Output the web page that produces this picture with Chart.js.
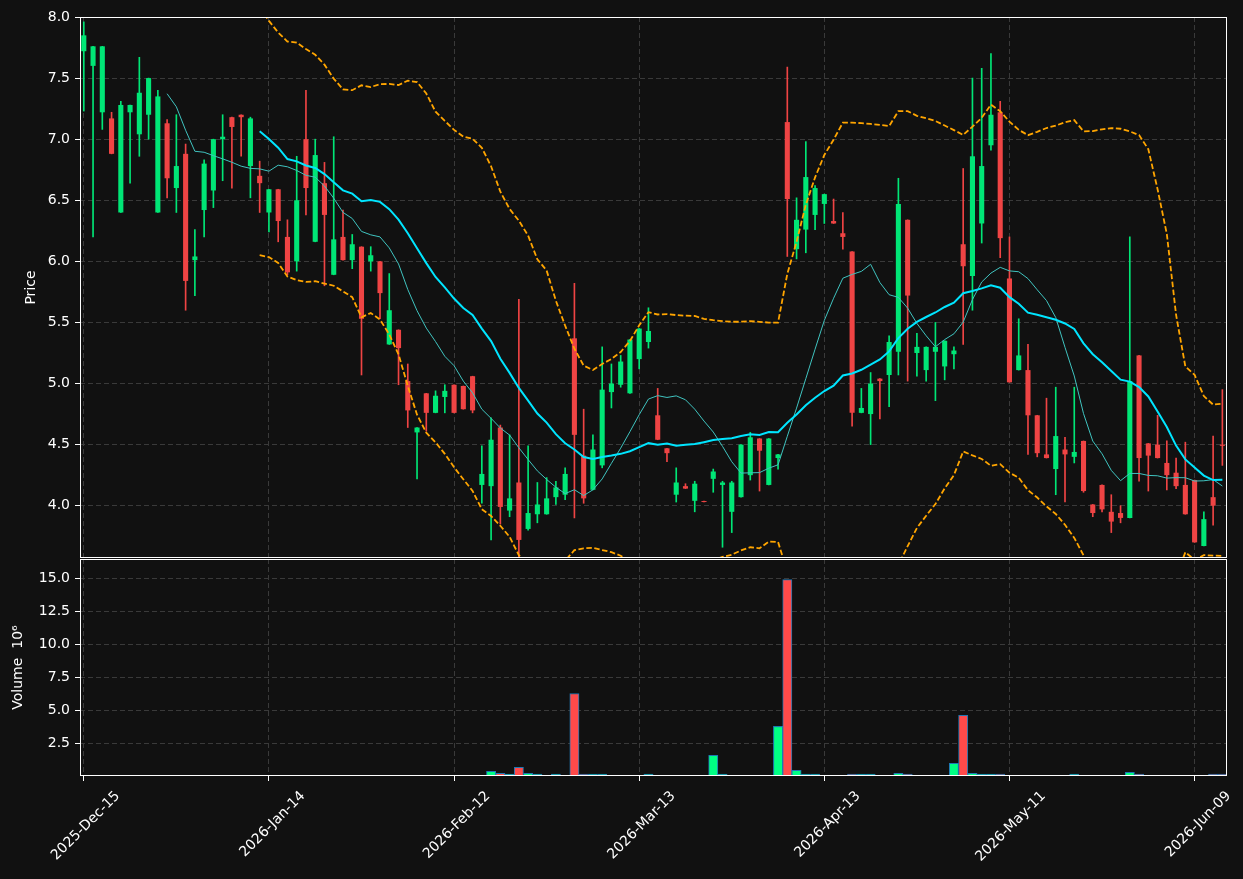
<!DOCTYPE html>
<html>
<head>
<meta charset="utf-8">
<script src="https://cdn.jsdelivr.net/npm/chart.js@4.4.1/dist/chart.umd.min.js"></script>
<style>
  html, body { margin: 0; padding: 0; background: #111111; }
  #wrap { position: relative; width: 1243px; height: 879px; background: #111111; overflow: hidden; }
  canvas { position: absolute; left: 0; }
  #price { top: 0; }
  #vol { top: 559px; }
</style>
</head>
<body>
<div id="wrap">
  <canvas id="price" width="1243" height="559"></canvas>
  <canvas id="vol" width="1243" height="320"></canvas>
</div>
<script>
/* --- DATA (one entry per trading day, index 0 = 2025-12-15) --- */
const opens  = [7.72,7.60,7.22,7.17,6.40,7.22,7.04,7.20,6.40,7.13, 6.60,6.88,6.01,6.42,6.58,7.00,7.18,7.20,6.78,6.70,
                6.40,6.59,6.20,6.00,7.00,6.16,6.64,5.89,6.20,6.01, 6.12,6.00,6.00,5.32,5.44,5.02,4.60,4.92,4.76,4.89,
                4.99,4.98,5.06,4.17,4.16,4.64,3.96,4.19,3.81,3.93, 3.93,4.07,4.09,5.37,4.41,4.13,4.33,4.93,4.99,4.92,
                5.20,5.34,4.74,4.47,4.09,4.16,4.04,4.037,4.22,4.17, 3.95,4.07,4.25,4.55,4.17,4.39,7.14,6.10,6.26,6.38,
                6.47,6.33,6.23,6.08,4.76,4.75,5.04,5.07,5.26,6.34, 5.25,5.11,5.26,5.14,5.24,6.14,5.88,6.31,6.95,7.22,
                5.86,5.11,5.11,4.74,4.42,4.30,4.46,4.40,4.53,4.01, 4.17,3.95,3.94,3.90,5.23,4.51,4.50,4.35,4.27,4.17,
                4.21,3.67,4.07,4.50];
const highs  = [7.96,7.76,7.76,7.22,7.31,7.28,7.67,7.50,7.40,7.16, 7.20,6.96,6.26,6.83,7.00,7.20,7.18,7.20,7.18,6.82,
                6.59,6.59,6.34,6.86,7.40,7.00,6.81,7.02,6.42,6.22, 6.12,6.12,6.00,5.90,5.44,5.16,4.64,4.92,4.94,4.99,
                4.99,4.98,5.06,4.49,4.72,4.66,4.58,5.69,4.49,4.19, 4.23,4.20,4.31,5.82,4.79,4.58,5.30,5.16,5.23,5.36,
                5.45,5.62,4.96,4.47,4.31,4.18,4.20,4.037,4.30,4.20, 4.20,4.50,4.60,4.55,4.55,4.42,7.59,6.52,6.98,6.62,
                6.55,6.51,6.40,6.08,4.96,5.09,5.04,5.39,6.68,6.34, 5.41,5.30,5.50,5.35,5.30,6.76,7.50,7.58,7.70,7.31,
                6.20,5.53,5.32,4.74,4.88,4.97,4.56,4.97,4.53,4.01, 4.17,4.09,4.00,6.20,5.23,4.51,4.74,4.53,4.39,4.52,
                4.21,3.95,4.57,4.95];
const lows   = [7.23,6.20,7.08,6.88,6.40,6.64,6.86,7.00,6.40,6.52, 6.40,5.60,5.72,6.20,6.44,6.66,6.60,6.86,6.52,6.40,
                6.24,6.16,5.89,5.92,6.38,6.16,5.80,5.89,6.01,5.94, 5.07,5.92,5.53,5.32,4.99,4.64,4.22,4.61,4.76,4.76,
                4.76,4.79,4.76,4.02,3.72,3.85,3.91,3.57,3.80,3.86, 3.93,4.01,4.05,3.90,4.02,4.13,4.31,4.80,4.97,4.92,
                5.12,5.29,4.54,4.36,4.03,4.14,3.95,4.03,4.11,3.66, 3.78,4.07,4.21,4.12,4.17,4.30,6.04,6.02,6.07,6.26,
                6.31,6.31,6.10,4.65,4.76,4.50,4.71,4.81,5.07,5.02, 5.06,5.02,4.86,5.03,5.12,5.32,5.60,6.15,6.91,6.03,
                5.01,5.11,4.42,4.40,4.39,4.09,4.03,4.35,4.11,3.91, 3.95,3.78,3.86,3.90,4.20,4.12,4.39,4.13,4.14,3.93,
                3.70,3.67,3.84,4.33];
const closes = [7.85,7.76,7.76,6.88,7.28,7.28,7.38,7.50,7.35,6.68, 6.78,5.84,6.04,6.80,7.00,7.02,7.10,7.18,7.17,6.64,
                6.59,6.33,5.91,6.50,6.60,6.87,6.38,6.18,6.01,6.14, 5.53,6.05,5.74,5.60,5.29,4.78,4.64,4.76,4.90,4.94,
                4.76,4.79,4.78,4.26,4.54,3.99,4.06,3.72,3.94,4.01, 4.06,4.15,4.26,4.58,4.06,4.46,4.95,5.00,5.18,5.36,
                5.45,5.43,4.54,4.43,4.19,4.14,4.18,4.03,4.28,4.19, 4.19,4.50,4.56,4.45,4.55,4.42,6.51,6.34,6.69,6.60,
                6.55,6.31,6.20,4.76,4.80,5.00,5.02,5.34,6.47,5.72, 5.30,5.30,5.30,5.35,5.27,5.96,6.86,6.78,7.20,6.19,
                5.01,5.23,4.74,4.43,4.39,4.57,4.42,4.44,4.12,3.94, 3.97,3.87,3.90,5.02,4.39,4.41,4.39,4.25,4.16,3.93,
                3.70,3.89,4.00,4.49];
// volume in millions of shares (null = no bar)
const volume = [null,null,null,null,null,null,null,null,null,null, null,null,null,null,null,null,null,null,null,null,
                null,null,null,null,null,null,null,null,null,null, null,null,null,null,null,null,null,null,null,null,
                null,null,null,null,0.35,0.20,0.13,0.66,0.20,0.04, null,0.04,null,6.26,0.13,0.03,0.03,null,null,null,
                null,0.03,null,null,null,null,null,null,1.57,0.13, null,null,null,null,null,3.76,14.9,0.43,0.03,0.03,
                null,null,null,0.03,0.03,0.13,null,null,0.20,0.03, null,null,null,null,0.96,4.60,0.20,0.03,0.03,0.03,
                null,null,null,null,null,null,null,0.03,null,null, null,null,null,0.28,0.03,null,null,null,null,null,
                null,null,0.03,0.03];

const tickIdx    = [0, 20, 40, 60, 80, 100, 120];
const tickLabels = ['2025-Dec-15','2026-Jan-14','2026-Feb-12','2026-Mar-13','2026-Apr-13','2026-May-11','2026-Jun-09'];
const priceTicks = [4.0, 4.5, 5.0, 5.5, 6.0, 6.5, 7.0, 7.5, 8.0];
const volTicks   = [2.5, 5.0, 7.5, 10.0, 12.5, 15.0];

/* --- INDICATORS derived from closes (10/20-day means, 20-day 2-sigma bands) --- */
function rollMean(src, n){
  return src.map((_, i) => {
    if (i < n - 1) return null;
    let s = 0; for (let k = i - n + 1; k <= i; k++) s += src[k];
    return s / n;
  });
}
function rollStd(src, n, mean){
  return src.map((_, i) => {
    if (mean[i] === null) return null;
    let s = 0; for (let k = i - n + 1; k <= i; k++) s += (src[k] - mean[i]) ** 2;
    return Math.sqrt(s / n);
  });
}
const ma10 = rollMean(closes, 10);
const ma20 = rollMean(closes, 20);
const sd20 = rollStd(closes, 20, ma20);
const bbUp = ma20.map((m, i) => m === null ? null : m + 2 * sd20[i]);
const bbDn = ma20.map((m, i) => m === null ? null : m - 2 * sd20[i]);

/* --- STYLE --- */
const GRID = '#3a3a3a';
const UP = '#00e676', DOWN = '#ef4444';
const VUP = '#00ff84', VDOWN = '#ff4a4a';
Chart.defaults.font.family = "'DejaVu Sans', sans-serif";
Chart.defaults.font.size = 14;
Chart.defaults.color = '#ffffff';
Chart.defaults.animation = false;

const days = closes.map((_, i) => i);
const isUp = days.map(i => closes[i] >= opens[i]);
const pts = arr => days.map(i => ({x: i, y: arr[i]}));

const frame = {
  id: 'frame',
  afterDraw(c){
    const a = c.chartArea, ctx = c.ctx;
    ctx.save();
    ctx.strokeStyle = '#ffffff'; ctx.lineWidth = 1;
    ctx.strokeRect(Math.round(a.left) + 0.5, Math.round(a.top) + 0.5,
                   Math.round(a.right - a.left) - 1, Math.round(a.bottom - a.top) - 1);
    ctx.restore();
  }
};

function xAxis(withLabels){
  return {
    type: 'linear', min: -0.41, max: 123.5, offset: false,
    afterBuildTicks: s => { s.ticks = tickIdx.map(v => ({value: v})); },
    ticks: {display: withLabels, autoSkip: false, maxRotation: 45, minRotation: 45,
            labelOffset: 34, padding: 7, callback: (v, i) => tickLabels[i]},
    grid: {offset: false, color: GRID, lineWidth: 1, drawTicks: withLabels, tickLength: 5,
           tickColor: '#ffffff', tickBorderDash: []},
    border: {display: false, dash: [5, 3]},
    afterFit: s => { s.height = withLabels ? 103 : 0; s.paddingLeft = 0; s.paddingRight = 0; }
  };
}
function yAxis(lo, hi, ticks, title, titlePad){
  return {
    type: 'linear', min: lo, max: hi,
    afterBuildTicks: s => { s.ticks = ticks.map(v => ({value: v})); },
    ticks: {padding: 5, callback: v => v.toFixed(1)},
    grid: {color: GRID, lineWidth: 1, tickLength: 5, tickColor: '#ffffff', tickBorderDash: []},
    border: {display: false, dash: [5, 3]},
    title: {display: true, text: title, color: '#ffffff', padding: {top: titlePad, bottom: 0}},
    afterFit: s => { s.width = 80; s.paddingTop = 0; s.paddingBottom = 0; }
  };
}
const lineDs = (data, color, width, dash) => ({
  type: 'line', data: pts(data), borderColor: color, borderWidth: width, borderDash: dash || [],
  pointRadius: 0, fill: false, tension: 0, spanGaps: false, order: 0
});

/* --- PRICE PANEL --- */
new Chart(document.getElementById('price'), {
  type: 'bar',
  data: {datasets: [
    lineDs(bbUp, '#ffa500', 1.8, [5.5, 2.5]),
    lineDs(bbDn, '#ffa500', 1.8, [5.5, 2.5]),
    lineDs(ma20, '#00e5ff', 2),
    lineDs(ma10, '#40c4c0', 1),
    {type: 'bar', data: days.map(i => ({x: i, y: [opens[i], closes[i]]})),
     backgroundColor: days.map(i => isUp[i] ? UP : DOWN),
     barPercentage: 0.55, categoryPercentage: 1, grouped: false, minBarLength: 1, order: 1},
    {type: 'bar', data: days.map(i => ({x: i, y: [lows[i], highs[i]]})),
     backgroundColor: days.map(i => isUp[i] ? UP : DOWN),
     barThickness: 1, grouped: false, order: 2}
  ]},
  options: {
    responsive: false, devicePixelRatio: 1, animation: false,
    layout: {padding: {left: 0, right: 16, top: 17, bottom: 1}},
    plugins: {legend: {display: false}, tooltip: {enabled: false}},
    scales: {x: xAxis(false), y: yAxis(3.572, 8.0, priceTicks, 'Price', 23)}
  },
  plugins: [frame]
});

/* --- VOLUME PANEL --- */
new Chart(document.getElementById('vol'), {
  type: 'bar',
  data: {datasets: [
    {data: pts(volume), backgroundColor: days.map(i => isUp[i] ? VUP : VDOWN),
     borderColor: '#1f77b4', borderWidth: 1, barPercentage: 1, categoryPercentage: 1,
     grouped: false, minBarLength: 2}
  ]},
  options: {
    responsive: false, devicePixelRatio: 1, animation: false,
    layout: {padding: {left: 0, right: 16, top: 0, bottom: 0}},
    plugins: {legend: {display: false}, tooltip: {enabled: false}},
    scales: {x: xAxis(true), y: yAxis(0, 16.46, volTicks, 'Volume  10\u2076', 10)}
  },
  plugins: [frame]
});
</script>
</body>
</html>
